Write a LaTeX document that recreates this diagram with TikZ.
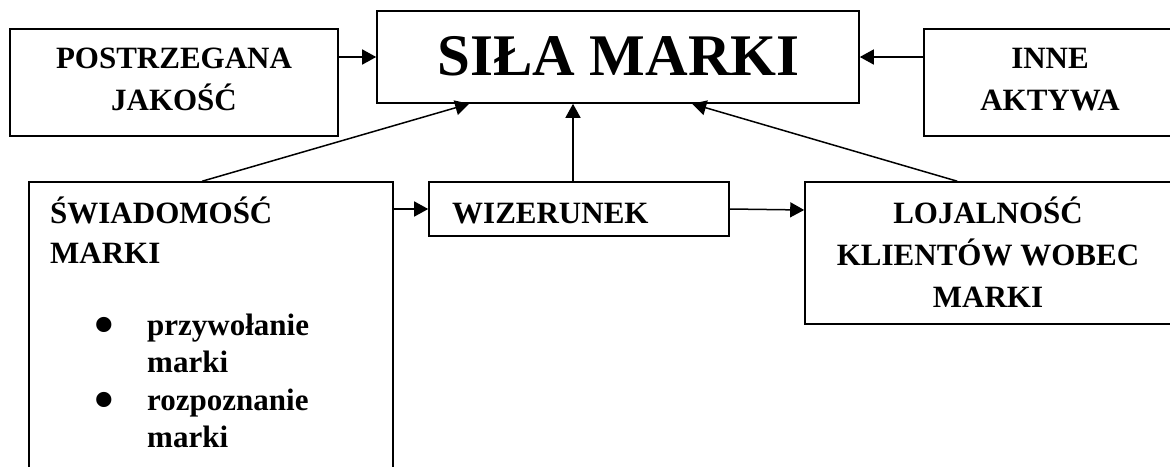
\documentclass[tikz,border=0pt]{standalone}
\usepackage{fontspec}
\setmainfont{Liberation Serif}
\usetikzlibrary{arrows.meta,calc}
\begin{document}
\begin{tikzpicture}[x=1pt,y=-1pt,
  box/.style={draw,line width=1.6pt,rectangle,inner sep=0pt},
  txt/.style={anchor=base,inner sep=0pt,font=\fontsize{31}{31}\selectfont\bfseries},
  ltxt/.style={anchor=base west,inner sep=0pt,font=\fontsize{31}{31}\selectfont\bfseries},
  bul/.style={anchor=base,inner sep=0pt,font=\fontsize{56}{56}\selectfont\bfseries},
  arr/.style={line width=1.5pt,-{Triangle[length=14pt,width=15pt]}}]
\useasboundingbox (0,0) rectangle (1170,466);
\clip (0,0) rectangle (1170,466);
% boxes
\node[box,minimum width=328pt,minimum height=107pt] (post) at (174,82.5) {};
\node[box,minimum width=482pt,minimum height=92pt] (sila) at (618,57) {};
\node[box,minimum width=252pt,minimum height=107pt] (inne) at (1050,82.5) {};
\node[box,minimum width=364pt,minimum height=298pt] (swiad) at (211,331) {};
\node[box,minimum width=300pt,minimum height=54pt] (wiz) at (579,209) {};
\node[box,minimum width=366pt,minimum height=142pt] (loj) at (988,253) {};
% texts
\node[txt] (t1) at (174,68) {POSTRZEGANA};
\node[txt] (t2) at (174,110) {JAKOŚĆ};
\node[anchor=base,inner sep=0pt,font=\fontsize{59}{59}\selectfont\bfseries] (t3) at (618.5,75) {SIŁA MARKI};
\node[txt] (t4) at (1050,68) {INNE};
\node[txt] (t5) at (1050,110) {AKTYWA};
\node[ltxt] (t6) at (50,223) {ŚWIADOMOŚĆ};
\node[ltxt] (t7) at (50,263) {MARKI};
\node[bul] (b1) at (104.5,343) {•};
\node[ltxt] (t8) at (147,335) {przywołanie};
\node[ltxt] (t9) at (147,372) {marki};
\node[bul] (b2) at (104.5,418) {•};
\node[ltxt] (t10) at (147,410) {rozpoznanie};
\node[ltxt] (t11) at (147,447) {marki};
\node[ltxt] (t12) at (452,223) {WIZERUNEK};
\node[txt] (t13) at (988,223) {LOJALNOŚĆ};
\node[txt] (t14) at (988,265) {KLIENTÓW WOBEC};
\node[txt] (t15) at (988,307) {MARKI};
% connectors
\draw[arr] (post.east |- sila.west) -- (sila.west);
\draw[arr] (inne.west |- sila.east) -- (sila.east);
\draw[arr] ([xshift=174pt]swiad.north west) -- ([xshift=93pt]sila.south west);
\draw[arr] ([xshift=-6pt]wiz.north) -- ([xshift=-6pt]wiz.north |- sila.south);
\draw[arr] ([xshift=153pt]loj.north west) -- ([xshift=316pt]sila.south west);
\draw[arr] (swiad.east |- wiz.west) -- (wiz.west);
\draw[arr] (wiz.east) -- ([yshift=-1pt]loj.west |- wiz.east);
\end{tikzpicture}
\end{document}
